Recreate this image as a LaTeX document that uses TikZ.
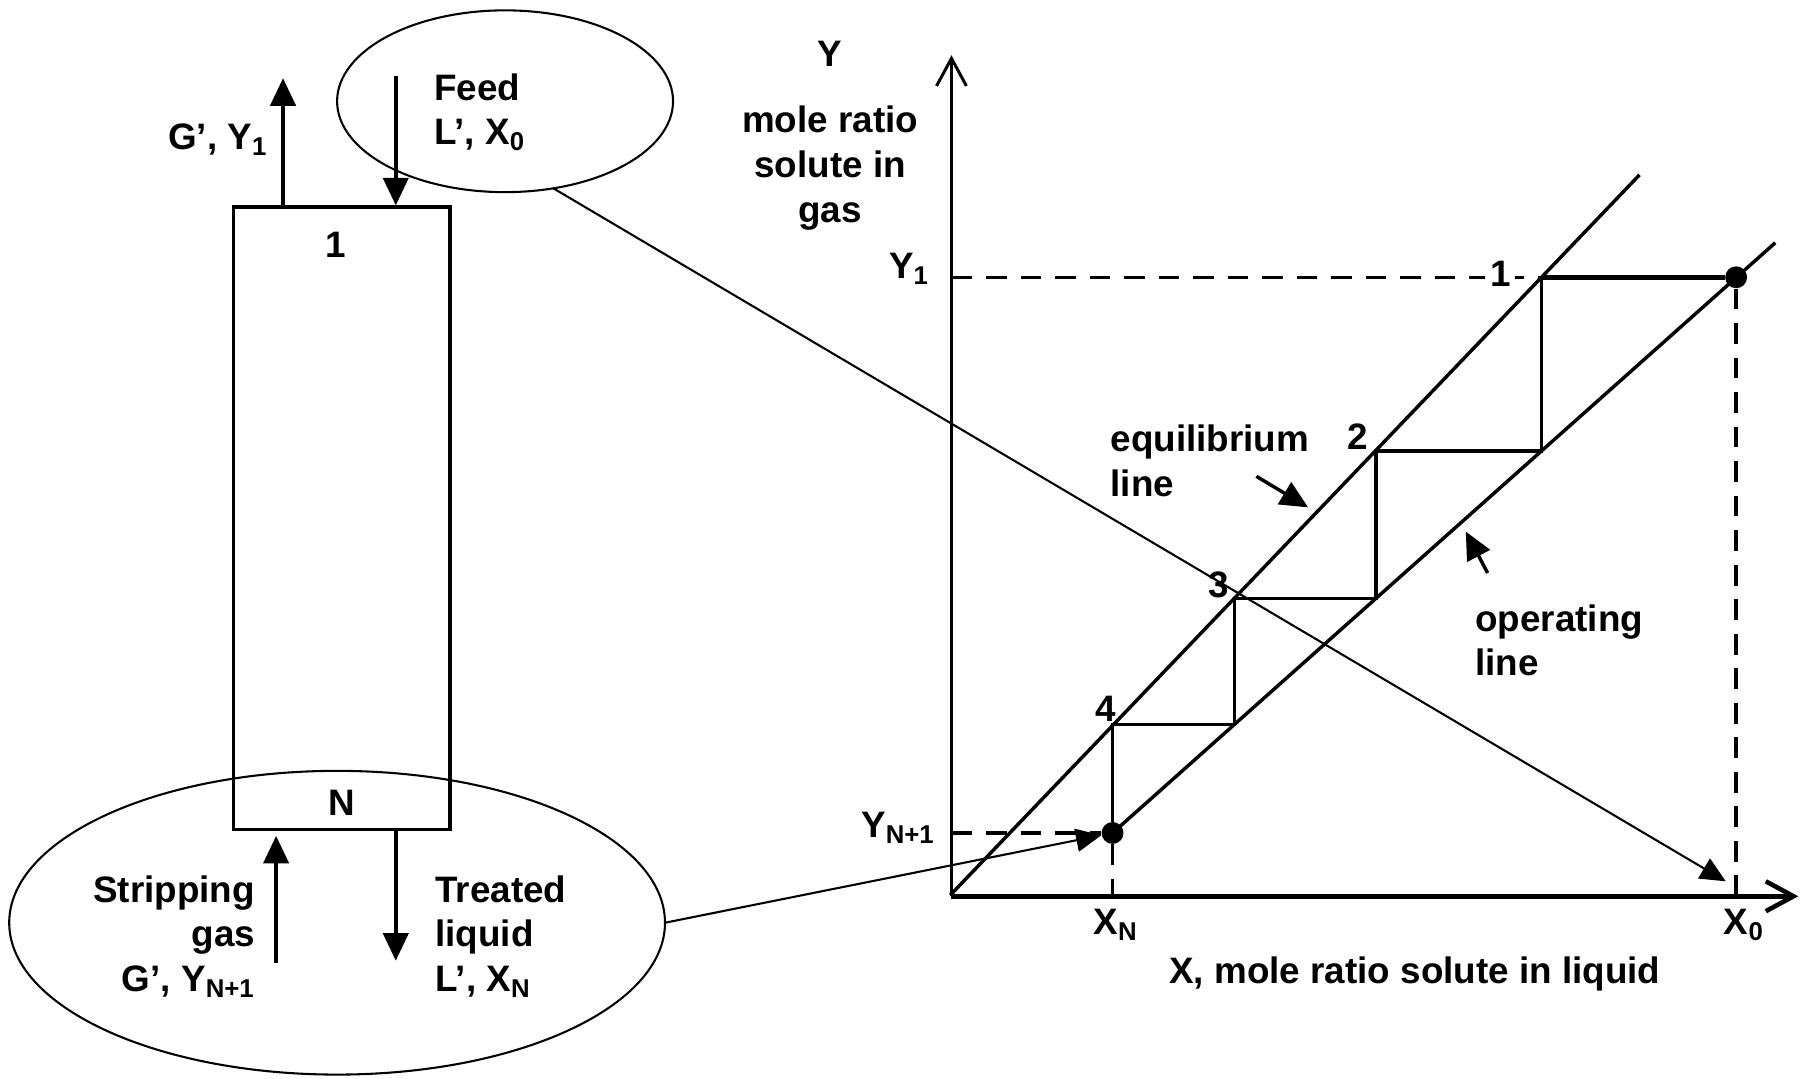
\documentclass[tikz,border=0pt]{standalone}
\usepackage{fontspec}
\setmainfont{Liberation Sans}
\usetikzlibrary{arrows.meta,shapes.geometric}

\begin{document}
\begin{tikzpicture}[
  x=0.5pt, y=-0.5pt,
  font=\fontsize{16}{19.5}\selectfont\bfseries,
  lbl/.style={inner sep=0pt},
  zone/.style={draw, ellipse, line width=0.9pt, inner sep=0pt, outer sep=0pt},
  stream/.style={-{Triangle[length=12pt,width=11pt]}, line width=1.5pt},
  link/.style={-{Triangle[length=11pt,width=10pt]}, line width=0.9pt},
  axis/.style={-{Straight Barb[length=12pt,width=13pt]}},
  guide/.style={dash pattern=on 9pt off 6pt, line width=1.5pt},
  stage/.style={line width=1.4pt},
  dot/.style={circle, fill, inner sep=0pt, minimum size=9.5pt}
]
\useasboundingbox (0,0) rectangle (1568,937);

% column and its streams
\node[draw, line width=1.5pt, minimum width=94pt, minimum height=270.5pt] (column) at (297,450.5) {};
\node[lbl, anchor=base] (toplbl) at (292,224) {1};
\node[lbl, anchor=base] (botlbl) at (297,709) {N};
\node[zone, minimum width=146pt, minimum height=79pt] (feedzone) at (439,88) {};
\node[zone, minimum width=285pt, minimum height=132pt] (bottomzone) at (293,802) {};

\coordinate (gasout) at (246,68);
\coordinate (feedin) at (344,66);
\coordinate (gasin) at (240,837);
\coordinate (liqout) at (344,835);
\draw[stream] (gasout |- column.north) -- (gasout);
\draw[stream] (feedin) -- (feedin |- column.north);
\draw[stream, shorten >=2pt] (gasin) -- (gasin |- column.south);
\draw[stream] (liqout |- column.south) -- (liqout);

\node[lbl, anchor=base east] (gasoutlbl) at (233,130) {G’, Y\textsubscript{1}};
\node[lbl, anchor=base west, align=left] (feedlbl) at (377,126) {Feed\\L’, X\textsubscript{0}};
\node[lbl, anchor=base east, align=right] (gasinlbl) at (222,862) {Stripping\\gas\\G’, Y\textsubscript{N+1}};
\node[lbl, anchor=base west, align=left] (liqoutlbl) at (378,862) {Treated\\liquid\\L’, X\textsubscript{N}};

% operating diagram
\coordinate (O) at (827,779);
\coordinate (ytop) at (827,48);
\coordinate (xend) at (1563,779);
\coordinate (eqlo) at (826,778);
\coordinate (eqhi) at (1425,152);
\coordinate (ophi) at (1543,211);
\coordinate (e1) at (1340,241);
\coordinate (e2) at (1196,392);
\coordinate (e3) at (1073,520);
\coordinate (e4) at (967,630);
\node[dot] (topdot) at (1509,241) {};
\node[dot] (ndot) at (967,724) {};

\draw[guide] (O |- topdot) -- (e1);
\draw[guide] (topdot) -- (topdot |- O);
\draw[guide] (O |- ndot) -- (ndot);
\draw[guide] (ndot) -- (ndot |- O);

\draw[axis, line width=1.3pt] (O) -- (ytop);
\draw[axis, line width=2pt] (O) -- (xend);
\draw[line width=1.5pt] (eqlo) -- (eqhi);
\draw[line width=1.5pt] (ndot.center) -- (ophi);
\draw[stage, line width=2pt] (topdot) -- (e1);
\draw[stage] (e1) |- (e2) |- (e3) |- (e4) -- (ndot);

\coordinate (x0tip) at (1500,766);
\draw[link] (feedzone.-61) -- (x0tip);
\draw[link] (bottomzone.east) -- (ndot);

\coordinate (eqtail) at (1092,414);
\coordinate (eqhead) at (1137,441);
\coordinate (optail) at (1293,498);
\coordinate (ophead) at (1274,462);
\draw[stream] (eqtail) -- (eqhead);
\draw[stream] (optail) -- (ophead);

\node[lbl, anchor=base] (ylbl) at (721.5,58) {Y};
\node[lbl, anchor=base, align=center] (ytext) at (721.5,193) {mole ratio\\solute in\\gas};
\node[lbl, anchor=base east] (y1lbl) at (808,242) {Y\textsubscript{1}};
\node[lbl, anchor=base east] (ynlbl) at (813,728) {Y\textsubscript{N+1}};
\node[lbl, anchor=base west] (xnlbl) at (950,812) {X\textsubscript{N}};
\node[lbl, anchor=base west] (x0lbl) at (1498,812) {X\textsubscript{0}};
\node[lbl, anchor=base west] (xtext) at (1016,855) {X, mole ratio solute in liquid};

\node[lbl, fill=white, inner sep=2pt, anchor=base] (s1) at (1304,249) {1};
\node[lbl, anchor=base] (s2) at (1180,391) {2};
\node[lbl, anchor=base] (s3) at (1059,519) {3};
\node[lbl, anchor=base] (s4) at (961,627) {4};
\node[lbl, anchor=base west, align=left] (eqlbl) at (965,431.5) {equilibrium\\line};
\node[lbl, anchor=base west, align=left] (oplbl) at (1282,587.5) {operating\\line};
\end{tikzpicture}
\end{document}
